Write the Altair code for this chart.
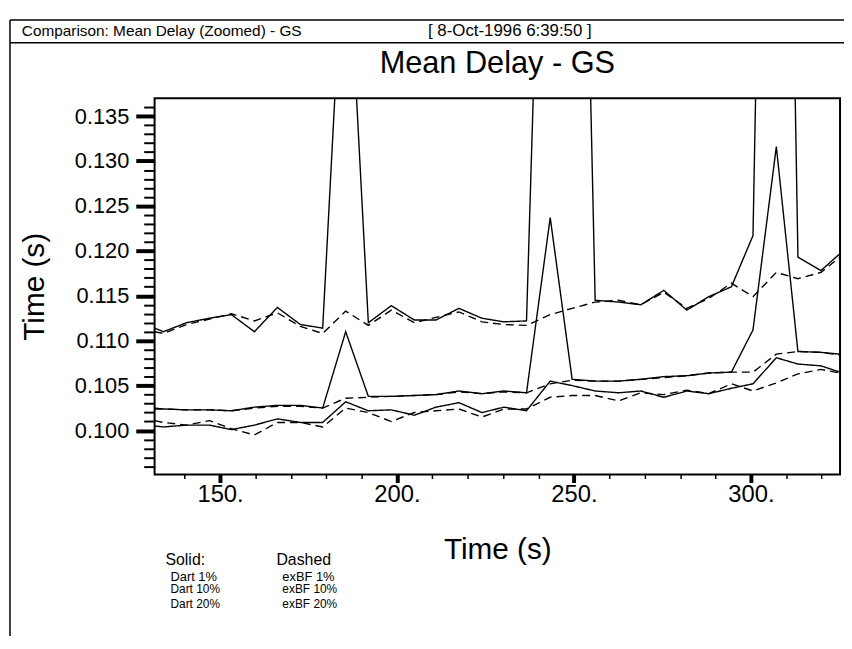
import altair as alt
import pandas as pd

# ---- data ----
times = [131.5, 134.0, 140.5, 147.0, 153.2, 159.7, 166.2, 172.7, 179.0, 185.5,
         191.9, 198.4, 204.9, 211.0, 217.5, 224.0, 230.2, 236.6, 243.3, 249.5,
         256.0, 262.6, 268.9, 275.4, 281.9, 288.1, 294.5, 300.6, 307.2, 313.3,
         319.8, 325.2]

dart_1 = [0.1114, 0.1110, 0.1120, 0.1125, 0.1129, 0.1110, 0.1137, 0.1118, 0.1114, 0.1600,
          0.1120, 0.1139, 0.1123, 0.1123, 0.1136, 0.1125, 0.1121, 0.1122, 0.2000, 0.2300,
          0.1145, 0.1143, 0.1140, 0.1156, 0.1134, 0.1149, 0.1160, 0.1217, 0.2600, 0.1193,
          0.1178, 0.1197]
exbf_1 = [0.1110, 0.1108, 0.1118, 0.1124, 0.1130, 0.1122, 0.1131, 0.1116, 0.1108, 0.1133,
          0.1117, 0.1134, 0.1120, 0.1126, 0.1132, 0.1121, 0.1118, 0.1117, 0.1129, 0.1136,
          0.1143, 0.1145, 0.1140, 0.1154, 0.1136, 0.1147, 0.1164, 0.1149, 0.1176, 0.1169,
          0.1176, 0.1193]
dart_10 = [0.1025, 0.1024, 0.1023, 0.1023, 0.1022, 0.1026, 0.1028, 0.1028, 0.1025, 0.1110,
           0.1038, 0.1038, 0.1039, 0.1040, 0.1044, 0.1041, 0.1044, 0.1042, 0.1237, 0.1057,
           0.1055, 0.1055, 0.1057, 0.1060, 0.1061, 0.1064, 0.1065, 0.1112, 0.1316, 0.1088,
           0.1087, 0.1085]
exbf_10 = [0.1024, 0.1024, 0.1023, 0.1023, 0.1022, 0.1025, 0.1027, 0.1027, 0.1025, 0.1036,
           0.1037, 0.1038, 0.1039, 0.1040, 0.1043, 0.1041, 0.1043, 0.1042, 0.1052, 0.1056,
           0.1055, 0.1055, 0.1057, 0.1059, 0.1061, 0.1064, 0.1065, 0.1065, 0.1085, 0.1088,
           0.1087, 0.1084]
dart_20 = [0.1005, 0.1004, 0.1006, 0.1006, 0.1001, 0.1006, 0.1013, 0.1009, 0.1009, 0.1032,
           0.1022, 0.1023, 0.1017, 0.1026, 0.1031, 0.1020, 0.1026, 0.1022, 0.1055, 0.1050,
           0.1044, 0.1042, 0.1044, 0.1037, 0.1044, 0.1041, 0.1047, 0.1052, 0.1081, 0.1074,
           0.1072, 0.1065]
exbf_20 = [0.1011, 0.1009, 0.1006, 0.1011, 0.1002, 0.0995, 0.1009, 0.1009, 0.1004, 0.1025,
           0.1020, 0.1010, 0.1020, 0.1022, 0.1024, 0.1015, 0.1024, 0.1024, 0.1037, 0.1039,
           0.1039, 0.1033, 0.1042, 0.1040, 0.1045, 0.1041, 0.1052, 0.1044, 0.1053, 0.1063,
           0.1068, 0.1064]

series_names = ["Dart 1%", "exBF 1%", "Dart 10%", "exBF 10%", "Dart 20%", "exBF 20%"]
series_styles = ["solid", "dashed", "solid", "dashed", "solid", "dashed"]
series_values = [dart_1, exbf_1, dart_10, exbf_10, dart_20, exbf_20]

x_domain = [131.5, 325.2]
y_domain = [0.0951, 0.1370]

x_ticks = [140, 150, 160, 170, 180, 190, 200, 210, 220, 230, 240, 250, 260, 270,
           280, 290, 300, 310, 320]
y_ticks = [0.096, 0.097, 0.098, 0.099, 0.100, 0.101, 0.102, 0.103, 0.104, 0.105,
           0.106, 0.107, 0.108, 0.109, 0.110, 0.111, 0.112, 0.113, 0.114, 0.115,
           0.116, 0.117, 0.118, 0.119, 0.120, 0.121, 0.122, 0.123, 0.124, 0.125,
           0.126, 0.127, 0.128, 0.129, 0.130, 0.131, 0.132, 0.133, 0.134, 0.135,
           0.136]

header_left = "Comparison: Mean Delay (Zoomed) - GS"
header_right = "[ 8-Oct-1996 6:39:50 ]"
chart_title = "Mean Delay - GS"
axis_title = "Time (s)"
legend_solid = ["Solid:", "Dart 1%", "Dart 10%", "Dart 20%"]
legend_dashed = ["Dashed", "exBF 1%", "exBF 10%", "exBF 20%"]

rows = []
for name, style, vals in zip(series_names, series_styles, series_values):
    for t, v in zip(times, vals):
        rows.append({"time": t, "delay": v, "series": name, "style": style})
df = pd.DataFrame(rows)

FONT = "Liberation Sans"
major_y = "abs(datum.value * 200 - round(datum.value * 200)) < 0.01"
major_x = "datum.value % 50 == 0"

x_axis = alt.Axis(
    values=x_ticks,
    labelExpr=f"({major_x}) ? format(datum.value, 'd') + '.' : ''",
    tickSize={"condition": {"test": major_x, "value": 8}, "value": 4},
    tickWidth={"condition": {"test": major_x, "value": 4}, "value": 1.5},
    tickColor="black", labelColor="black", labelFont=FONT, labelFontSize=24,
    labelPadding=0, labelOverlap=False, labelFlush=False, domain=False, grid=False,
    title=axis_title, titleFont=FONT, titleFontSize=30, titleFontWeight="normal",
    titleColor="black", titleX=346, titleY=76, titleBaseline="middle", titleAlign="center",
)
y_axis = alt.Axis(
    values=y_ticks,
    labelExpr=f"({major_y}) ? format(datum.value, '.3f') : ''",
    tickSize={"condition": {"test": major_y, "value": 19}, "value": 11},
    tickWidth={"condition": {"test": major_y, "value": 4}, "value": 2},
    tickColor="black", labelColor="black", labelFont=FONT, labelFontSize=22,
    labelPadding=7, labelOverlap=False, labelFlush=False, domain=False, grid=False,
    title=axis_title, titleFont=FONT, titleFontSize=30, titleFontWeight="normal",
    titleColor="black", titleX=-121, titleY=190, titleAngle=270,
    titleBaseline="middle", titleAlign="center",
)

lines = alt.Chart(df).mark_line(color="black", strokeWidth=1.4, clip=True).encode(
    x=alt.X("time:Q", scale=alt.Scale(domain=x_domain, nice=False, zero=False), axis=x_axis),
    y=alt.Y("delay:Q", scale=alt.Scale(domain=y_domain, nice=False, zero=False), axis=y_axis),
    strokeDash=alt.StrokeDash("style:N",
                              scale=alt.Scale(domain=["solid", "dashed"], range=[[1, 0], [8, 5]]),
                              legend=None),
    detail="series:N",
)

one = pd.DataFrame({"k": [0]})


def text_mark(txt, x, y, size, align="left"):
    return alt.Chart(one).mark_text(
        text=txt, font=FONT, fontSize=size, color="black", align=align, baseline="middle"
    ).encode(x=alt.value(x), y=alt.value(y))


def hrule(x1, x2, y, w=1.5):
    return alt.Chart(one).mark_rule(color="black", strokeWidth=w).encode(
        x=alt.value(x1), x2=alt.value(x2), y=alt.value(y))


decor = [
    hrule(-146, 696, -79),
    hrule(-146, 696, -56),
    alt.Chart(one).mark_rule(color="black", strokeWidth=1.5).encode(
        x=alt.value(-146), y=alt.value(-79), y2=alt.value(560)),
    text_mark(header_left, -134, -68, 15.5),
    text_mark(header_right, 276, -68, 17),
    text_mark(chart_title, 346, -34, 31, align="center"),
]
solid_y = [466, 483, 496, 511]
dashed_x = [123, 129, 129, 129]
solid_x = [11, 16, 16, 16]
sizes = [16, 13, 12, 12]
for i in range(4):
    decor.append(text_mark(legend_solid[i], solid_x[i], solid_y[i], sizes[i]))
    decor.append(text_mark(legend_dashed[i], dashed_x[i], solid_y[i], sizes[i]))

chart = alt.layer(lines, *decor).properties(
    width=692, height=380,
    padding={"left": 148, "top": 88, "right": 4, "bottom": 160},
    autosize=alt.AutoSizeParams(type="none"),
).configure(font=FONT, background="white").configure_view(stroke="black", strokeWidth=2)

chart.save("out.html", embed_options={"renderer": "svg", "actions": False})
